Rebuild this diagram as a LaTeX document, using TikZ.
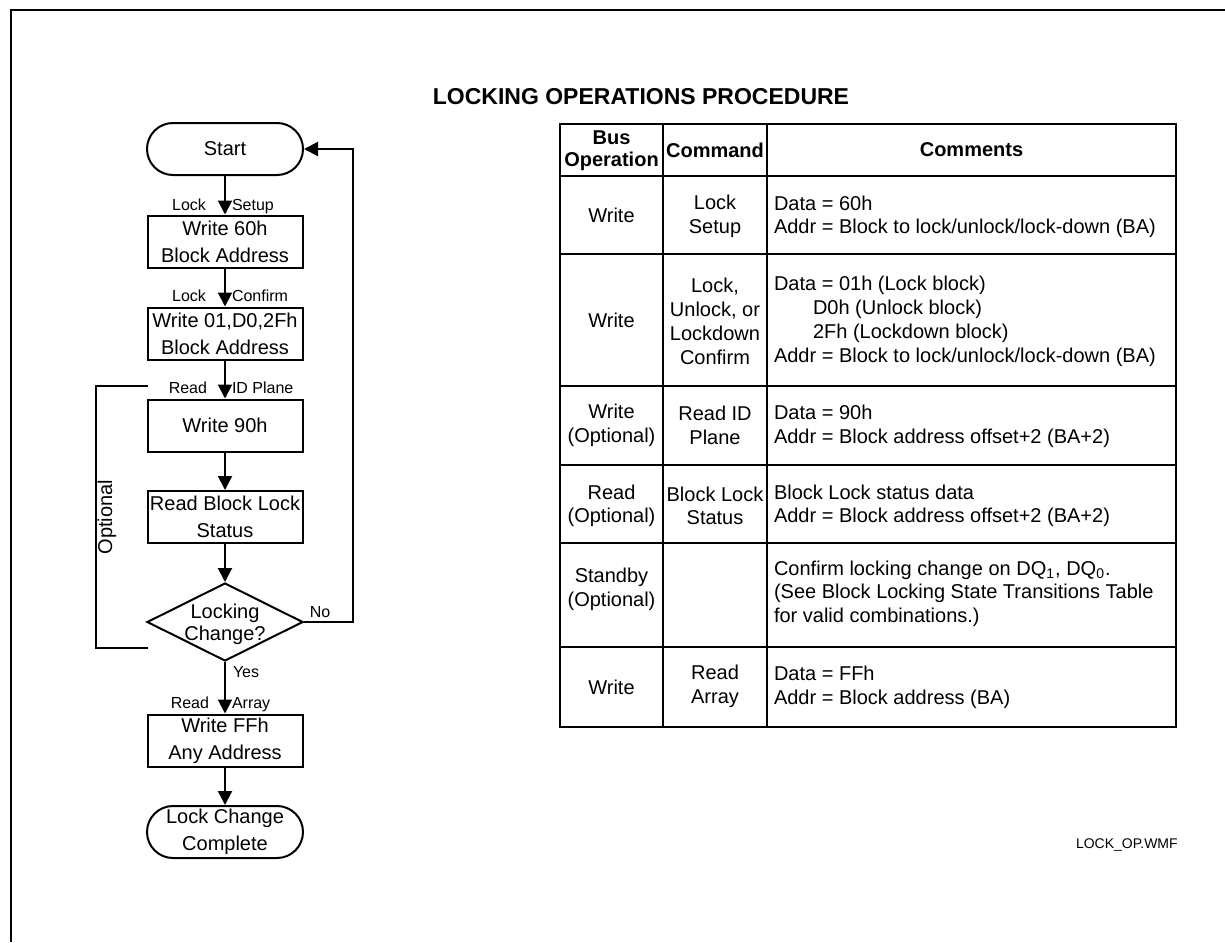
\documentclass[tikz,border=0pt]{standalone}
\usepackage{fontspec}
\setmainfont{Liberation Sans}
\usetikzlibrary{arrows.meta,shapes.geometric}
\begin{document}
\begin{tikzpicture}[x=0.5pt,y=-0.5pt,line width=1pt,
  fc/.style={draw,line width=1pt,minimum width=77.5pt,minimum height=26pt,inner sep=0pt,align=center,font=\fontsize{10}{13.5}\selectfont},
  term/.style={fc,rounded corners=13pt,minimum width=78pt},
  dec/.style={draw,diamond,line width=1pt,minimum width=78pt,minimum height=39pt,inner sep=0pt},
  dectext/.style={inner sep=0pt,align=center,font=\fontsize{10}{11}\selectfont},
  lbl/.style={inner sep=0pt,font=\fontsize{8}{9}\selectfont},
  arr/.style={-{Triangle[length=7pt,width=7pt]}},
  cell/.style={inner sep=0pt,align=center,font=\fontsize{10}{11.75}\selectfont},
  cmt/.style={inner sep=0pt,align=left,anchor=west,font=\fontsize{10}{11.75}\selectfont},
  hdr/.style={inner sep=0pt,align=center,font=\fontsize{10}{11}\selectfont\bfseries},
  tblout/.style={line width=1.3pt},
  tblin/.style={line width=1pt}
]
\useasboundingbox (0,0) rectangle (1225,942);
% frame
\coordinate (fA) at (11,942);
\coordinate (fB) at (11,10);
\coordinate (fC) at (1225,10);
\draw[line width=1.2pt] (fA) -- (fB) -- (fC);

% title
\node[inner sep=0pt,font=\fontsize{11.5}{14}\selectfont\bfseries] (title) at (641,97) {LOCKING OPERATIONS PROCEDURE};

% flowchart
\node[term] (start) at (225,149) {Start};
\node[fc] (b1) at (225,241.5) {Write 60h\\Block Address};
\node[fc] (b2) at (225,333.5) {Write 01,D0,2Fh\\Block Address};
\node[fc] (b3) at (225,425.5) {Write 90h};
\node[fc] (b4) at (225,517) {Read Block Lock\\Status};
\node[dec] (dia) at (225,622) {};
\node[dectext] (diat) at (225,624) {Locking\\Change?};
\node[fc] (b5) at (225,740.5) {Write FFh\\Any Address};
\node[term] (end) at (225,832) {Lock Change\\Complete};

\draw[arr] (start) -- (b1);
\draw[arr] (b1) -- (b2);
\draw[arr] (b2) -- (b3);
\draw[arr] (b3) -- (b4);
\draw[arr] (b4) -- (dia.north);
\draw[arr] (dia.south) -- (b5);
\draw[arr] (b5) -- (end);

\coordinate (loopB) at (353,622);
\coordinate (loopT) at (353,149);
\draw[arr] (dia.east) -- (loopB) -- (loopT) -- (start.east);

\coordinate (o1) at (148,386);
\coordinate (o2) at (96,386);
\coordinate (o3) at (96,648);
\coordinate (o4) at (148,648);
\draw (o1) -- (o2) -- (o3) -- (o4);
\node[rotate=90,inner sep=0pt,font=\fontsize{10}{11}\selectfont] (opt) at (107,517) {Optional};

\node[lbl,anchor=base east] (l1a) at (207,210) {Lock};
\node[lbl,anchor=base west] (l1b) at (231,210) {Setup};
\node[lbl,anchor=base east] (l2a) at (207,301) {Lock};
\node[lbl,anchor=base west] (l2b) at (231,301) {Confirm};
\node[lbl,anchor=base east] (l3a) at (208,393) {Read};
\node[lbl,anchor=base west] (l3b) at (231,393) {ID Plane};
\node[lbl,anchor=base east] (l4a) at (210,708) {Read};
\node[lbl,anchor=base west] (l4b) at (231,708) {Array};
\node[lbl,anchor=base] (no) at (320,617) {No};
\node[lbl,anchor=base west] (yes) at (232,677) {Yes};

% table
\draw[tblout] (560,124) rectangle (1176,727);
\foreach \yy in {176,254,386,465,543,647} \draw[tblin] (560,\yy) -- (1176,\yy);
\draw[tblin] (663,124) -- (663,727);
\draw[tblin] (767,124) -- (767,727);

\node[hdr] (h1) at (611.5,151) {Bus\\Operation};
\node[hdr] (h2) at (715,150) {Command};
\node[hdr] (h3) at (971.5,150) {Comments};

\node[cell] (r1a) at (611.5,215) {Write};
\node[cell] (r1b) at (715,216.5) {Lock\\Setup};
\node[cmt] (r1c) at (773,217) {Data = 60h\\Addr = Block to lock/unlock/lock-down (BA)};

\node[cell] (r2a) at (611.5,320) {Write};
\node[cell,font=\fontsize{10}{12}\selectfont] (r2b) at (715,321) {Lock,\\Unlock, or\\Lockdown\\Confirm};
\node[cmt,font=\fontsize{10}{12}\selectfont] (r2c) at (773,321) {Data = 01h (Lock block)\\\hspace*{19.5pt}D0h (Unlock block)\\\hspace*{19.5pt}2Fh (Lockdown block)\\Addr = Block to lock/unlock/lock-down (BA)};

\node[cell] (r3a) at (611.5,425.5) {Write\\(Optional)};
\node[cell] (r3b) at (715,425.5) {Read ID\\Plane};
\node[cmt] (r3c) at (773,426.5) {Data = 90h\\Addr = Block address offset+2 (BA+2)};

\node[cell] (r4a) at (611.5,506) {Read\\(Optional)};
\node[cell] (r4b) at (715,506) {Block Lock\\Status};
\node[cmt] (r4c) at (773,506) {Block Lock status data\\Addr = Block address offset+2 (BA+2)};

\node[cell] (r5a) at (611.5,589.5) {Standby\\(Optional)};
\node[cmt] (r5c) at (773,593.5) {Confirm locking change on DQ\textsubscript{1}, DQ\textsubscript{0}.\\(See Block Locking State Transitions Table\\for valid combinations.)};

\node[cell] (r6a) at (611.5,687) {Write};
\node[cell] (r6b) at (715,686.5) {Read\\Array};
\node[cmt] (r6c) at (773,687.5) {Data = FFh\\Addr = Block address (BA)};

\node[inner sep=0pt,anchor=west,font=\fontsize{7}{8}\selectfont] (tag) at (1075,845) {LOCK\_OP.WMF};
\end{tikzpicture}
\end{document}
